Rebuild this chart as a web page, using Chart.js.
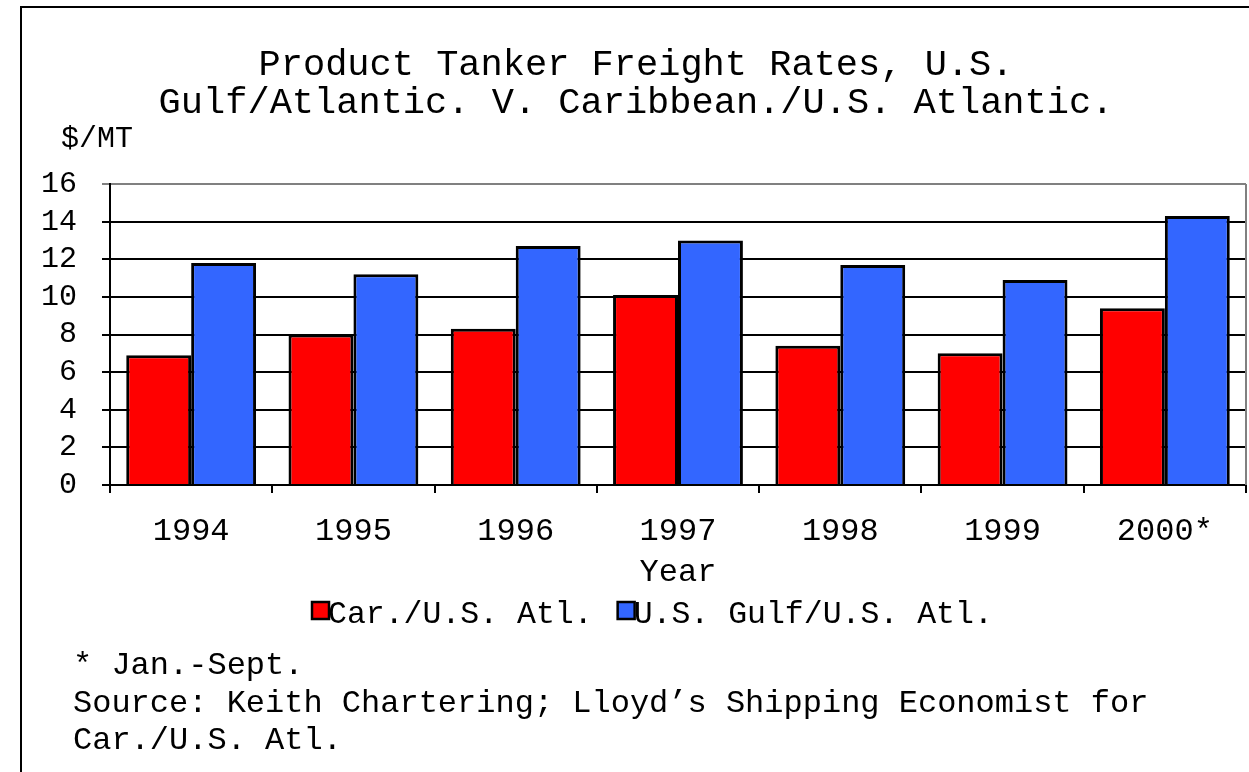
<!DOCTYPE html>
<html><head><meta charset="utf-8">
<script src="https://cdn.jsdelivr.net/npm/chart.js@4/dist/chart.umd.min.js"></script>
<style>
html,body{margin:0;padding:0;background:#fff;}
#wrap{position:relative;width:1249px;height:772px;}
canvas{position:absolute;left:0;top:0;}
</style></head><body>
<div id="wrap"><canvas id="c" width="1249" height="772"></canvas></div>
<script>
// ---- data ----
const categories = ['1994', '1995', '1996', '1997', '1998', '1999', '2000*'];
const carAtl = [6.9, 8.0, 8.3, 10.1, 7.4, 7.0, 9.4];
const gulfAtl = [11.8, 11.2, 12.7, 13.0, 11.7, 10.9, 14.3];
const seriesLabels = ['Car./U.S. Atl.', 'U.S. Gulf/U.S. Atl.'];
const seriesColors = ['#ff0000', '#3366ff'];
const yTicks = [0, 2, 4, 6, 8, 10, 12, 14, 16];
const titleLines = ['Product Tanker Freight Rates, U.S.', 'Gulf/Atlantic. V. Caribbean./U.S. Atlantic.'];
const yUnit = '$/MT';
const xTitle = 'Year';
const footnotes = ['* Jan.-Sept.', 'Source: Keith Chartering; Lloyd\u2019s Shipping Economist for', 'Car./U.S. Atl.'];

const FONT = "'Liberation Mono', 'Courier New', monospace";

const decor = {
  id: 'decor',
  beforeDraw(chart) {
    const c = chart.ctx;
    c.save();
    c.fillStyle = '#fff';
    c.fillRect(0, 0, chart.width, chart.height);
    c.restore();
  },
  afterDraw(chart) {
    const c = chart.ctx;
    const a = chart.chartArea;
    c.save();
    // outer frame
    c.strokeStyle = '#000';
    c.lineWidth = 2;
    c.beginPath();
    c.moveTo(21, chart.height);
    c.lineTo(21, 7);
    c.lineTo(chart.width, 7);
    c.stroke();
    // right plot border (gray)
    c.strokeStyle = '#808080';
    c.beginPath();
    c.moveTo(a.right, a.top);
    c.lineTo(a.right, a.bottom);
    c.stroke();
    // title
    c.fillStyle = '#000';
    c.textAlign = 'center';
    c.textBaseline = 'alphabetic';
    c.font = '37px ' + FONT;
    c.fillText(titleLines[0], 636, 75);
    c.fillText(titleLines[1], 636, 113);
    // unit label
    c.textAlign = 'left';
    c.font = '30px ' + FONT;
    c.fillText(yUnit, 61, 147);
    // legend
    c.font = '31.5px ' + FONT;
    const box = 17, gap = 25;
    let x = 312;
    seriesLabels.forEach((t, i) => {
      c.fillStyle = seriesColors[i];
      c.fillRect(x, 602, box, box);
      c.strokeStyle = '#000';
      c.lineWidth = 2.5;
      c.strokeRect(x, 602, box, box);
      c.fillStyle = '#000';
      c.fillText(t, x + box - 1, 623);
      x += box - 1 + c.measureText(t).width + gap;
    });
    // footnotes
    c.font = '32px ' + FONT;
    footnotes.forEach((t, i) => c.fillText(t, 73, 674 + i * 37.5));
    c.restore();
  }
};

new Chart(document.getElementById('c'), {
  type: 'bar',
  data: {
    labels: categories,
    datasets: [
      { label: seriesLabels[0], data: carAtl, backgroundColor: seriesColors[0], borderColor: '#000', borderWidth: 3, categoryPercentage: 0.8, barPercentage: 1.0 },
      { label: seriesLabels[1], data: gulfAtl, backgroundColor: seriesColors[1], borderColor: '#000', borderWidth: 3, categoryPercentage: 0.8, barPercentage: 1.0 }
    ]
  },
  options: {
    responsive: false,
    animation: false,
    devicePixelRatio: 1,
    layout: { padding: { top: 184, left: 0, right: 3, bottom: 177 } },
    plugins: { legend: { display: false }, title: { display: false }, tooltip: { enabled: false } },
    scales: {
      x: {
        grid: { offset: true, drawOnChartArea: false, drawTicks: true, tickLength: 8, color: '#000', lineWidth: 2 },
        border: { display: true, color: '#000', width: 2 },
        ticks: { font: { family: FONT, size: 32 }, color: '#000', padding: 19, maxRotation: 0, autoSkip: false },
        title: { display: true, text: xTitle, font: { family: FONT, size: 32 }, color: '#000', padding: { top: 0, bottom: 3 } },
        afterFit: s => { s.height = 110; }
      },
      y: {
        min: 0, max: 16,
        afterBuildTicks: s => { s.ticks = yTicks.map(v => ({ value: v })); },
        grid: { color: ctx => (ctx.tick && ctx.tick.value === 16) ? '#808080' : '#000', lineWidth: 2, tickLength: 8, drawTicks: true },
        border: { display: true, color: '#000', width: 2 },
        ticks: { font: { family: FONT, size: 30 }, color: '#000', padding: 25, autoSkip: false },
        afterFit: s => { s.width = 110; }
      }
    }
  },
  plugins: [decor]
});
</script>
</body></html>
